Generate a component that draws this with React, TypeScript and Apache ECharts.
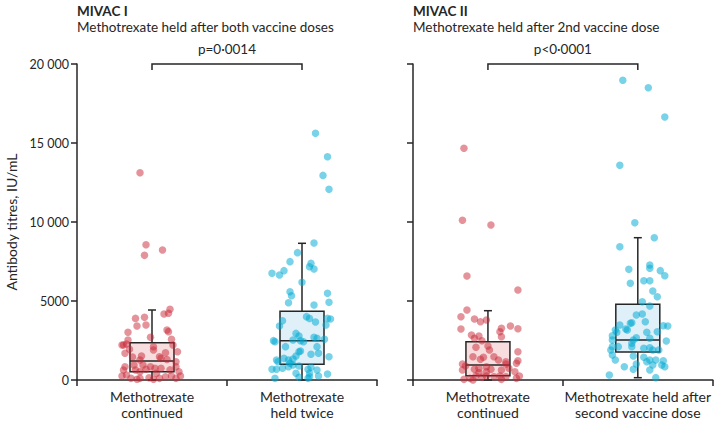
import React, { useEffect, useRef } from "react";
import * as echarts from "echarts";

// Category labels
const catsI = ["Methotrexate\ncontinued", "Methotrexate\nheld twice"];
const catsII = ["Methotrexate\ncontinued", "Methotrexate held after\nsecond vaccine dose"];
const yTicks = [0, 5000, 10000, 15000, 20000];

// Box summaries: [min, q1, median, q3, upper whisker]
const boxIContinued = [0, 525, 1203, 2361, 4430];
const boxIHeld = [0, 994, 2487, 4348, 8652];
const boxIIContinued = [0, 272, 949, 2424, 4386];
const boxIIHeld = [146, 1772, 2532, 4791, 9006];

// Individual points: [horizontal jitter within the category, titre IU/mL]
const ptsIContinued = [
  [-0.08, 13120], [-0.04, 8565], [-0.05, 7890], [0.07, 8228], [0.12, 4475], [0.11, 4220],
  [0.08, 4180], [-0.11, 3900], [-0.05, 3965], [-0.1, 3420], [-0.04, 3480], [-0.16, 3020],
  [0.1, 3165], [0.11, 3060], [-0.01, 2700], [0.13, 2575], [-0.19, 2215], [-0.17, 2280],
  [-0.2, 2215], [-0.16, 2530], [-0.15, 1940], [0.01, 2110], [0.14, 2215], [0.17, 1790],
  [-0.18, 1690], [-0.07, 1520], [0.06, 1370], [0.09, 1730], [0.01, 1900], [-0.12, 950],
  [-0.06, 950], [-0.01, 840], [0.02, 740], [0.06, 740], [0.16, 1160], [0.16, 840],
  [-0.18, 840], [-0.19, 630], [-0.11, 630], [-0.08, 525], [-0.04, 675], [0.18, 525],
  [-0.2, 250], [-0.17, 315], [-0.14, 105], [-0.1, 45], [-0.08, 105], [-0.02, 145],
  [0.01, 45], [0.05, 105], [0.09, 210], [0.13, 250], [0.16, 105], [0.19, 250],
  [0.05, 1475], [-0.08, 1265], [0.1, 1300], [-0.13, 1450], [0.03, 420], [0.12, 640],
];
const ptsIHeld = [
  [0.09, 15610], [0.17, 14130], [0.14, 12950], [0.18, 12070], [0.08, 8670], [-0.03, 8060],
  [-0.08, 7490], [-0.2, 6750], [-0.15, 6645], [-0.12, 6920], [0.06, 7380], [0.05, 7170],
  [0.08, 7025], [0.0, 6180], [-0.08, 5590], [-0.07, 5335], [-0.09, 4890], [0.08, 4750],
  [0.17, 5490], [0.18, 4915], [0.03, 4010], [0.05, 3900], [0.09, 3670], [0.17, 3900],
  [0.19, 3860], [0.16, 3480], [-0.15, 3420], [-0.13, 3750], [-0.04, 2950], [-0.02, 2785],
  [-0.19, 2490], [-0.18, 2425], [-0.06, 2530], [-0.01, 2490], [0.01, 2425], [0.08, 2700],
  [0.1, 2640], [0.15, 2575], [-0.11, 2110], [0.1, 2110], [-0.02, 1790], [-0.01, 1835],
  [-0.04, 1520], [0.06, 1625], [0.11, 1690], [-0.17, 1265], [-0.16, 1160], [-0.12, 1370],
  [-0.09, 1265], [-0.06, 1330], [-0.08, 1055], [0.18, 1475], [-0.2, 675], [-0.17, 675],
  [-0.13, 740], [-0.09, 840], [-0.06, 950], [-0.02, 885], [0.04, 675], [0.06, 805],
  [0.1, 630], [-0.04, 425], [0.05, 425], [0.17, 380], [0.11, 250], [-0.18, 105],
  [-0.02, 170], [0.04, 105], [0.05, 210],
];
const ptsIIContinued = [
  [-0.16, 14665], [-0.17, 10107], [0.02, 9810], [-0.14, 6582], [0.2, 5696], [-0.14, 4430],
  [-0.18, 4006], [-0.09, 3860], [-0.05, 3690], [-0.01, 3797], [0.15, 3418], [0.2, 3247],
  [-0.18, 3228], [0.09, 3270], [0.08, 3057], [0.09, 2740], [-0.11, 2848], [-0.09, 2640],
  [-0.06, 2785], [-0.04, 2487], [0.0, 2152], [0.01, 1899], [-0.08, 2070], [0.2, 1791],
  [-0.1, 1475], [-0.03, 1435], [-0.05, 1310], [0.04, 1475], [0.07, 1266], [0.12, 1160],
  [0.12, 1013], [0.2, 1223], [-0.17, 1013], [-0.15, 886], [-0.17, 633], [-0.09, 675],
  [-0.06, 740], [-0.01, 843], [0.02, 675], [0.09, 633], [0.14, 740], [0.19, 1055],
  [0.18, 527], [-0.08, 253], [-0.04, 169], [-0.01, 253], [0.04, 211], [0.08, 253],
  [0.12, 211], [-0.16, 42], [-0.12, 105], [-0.1, 0], [0.09, 42], [0.19, 105],
  [0.21, 253], [-0.06, 464], [-0.01, 527],
];
const ptsIIHeld = [
  [-0.1, 18968], [0.07, 18500], [0.18, 16645], [-0.12, 13590], [-0.02, 9956], [0.11, 9006],
  [-0.12, 8437], [0.08, 7278], [0.08, 7068], [0.15, 6920], [0.18, 6600], [-0.06, 7005],
  [-0.05, 6120], [0.04, 6285], [0.08, 6285], [0.1, 5630], [0.08, 4683], [0.13, 5270],
  [0.03, 4955], [-0.12, 3480], [-0.08, 3228], [-0.05, 3586], [-0.04, 3628], [-0.01, 4114],
  [0.03, 4177], [0.05, 3690], [0.17, 3437], [0.2, 3418], [-0.07, 3164], [-0.17, 2806],
  [-0.14, 3018], [-0.15, 3164], [0.06, 3018], [0.13, 3057], [0.19, 2468], [-0.17, 2532],
  [-0.04, 2321], [-0.03, 2532], [0.08, 2640], [-0.01, 2679], [-0.17, 2110], [-0.18, 1899],
  [-0.13, 2110], [-0.04, 2110], [0.04, 2004], [0.08, 2046], [0.1, 1899], [0.14, 1899],
  [-0.17, 1582], [-0.15, 1266], [-0.03, 1519], [0.04, 1435], [0.08, 1266], [0.12, 1266],
  [0.17, 1223], [-0.01, 1013], [0.06, 1160], [0.1, 950], [0.16, 950], [0.18, 843],
  [-0.09, 843], [-0.03, 675], [0.08, 633], [-0.19, 316], [0.12, 148],
];

const pLabelI = "p=0·0014";
const pLabelII = "p<0·0001";

const FONT = "Lato, 'Open Sans', sans-serif";
const INK = "#262626";
const RED = "rgba(200, 36, 52, 0.62)";
const BLUE = "rgba(0, 170, 212, 0.66)";
const RED_FILL = "#f7dddd";
const BLUE_FILL = "#dff0f8";

function fmtTick(v: number) {
  if (v >= 10000) {
    const s = String(v);
    return s.slice(0, s.length - 3) + " " + s.slice(s.length - 3);
  }
  return String(v);
}

function boxRender(fills: string[]) {
  return (params: any, api: any) => {
    const x = api.value(0);
    const mn = api.value(1), q1 = api.value(2), md = api.value(3), q3 = api.value(4), mx = api.value(5);
    const pQ1 = api.coord([x, q1]);
    const pQ3 = api.coord([x, q3]);
    const pMd = api.coord([x, md]);
    const pMn = api.coord([x, mn]);
    const pMx = api.coord([x, mx]);
    const hw = 22;
    const cap = 4;
    const ls = { stroke: INK, lineWidth: 1.5, fill: null };
    return {
      type: "group",
      children: [
        { type: "line", shape: { x1: pQ3[0], y1: pQ3[1], x2: pMx[0], y2: pMx[1] }, style: ls },
        { type: "line", shape: { x1: pMx[0] - cap, y1: pMx[1], x2: pMx[0] + cap, y2: pMx[1] }, style: ls },
        { type: "line", shape: { x1: pQ1[0], y1: pQ1[1], x2: pMn[0], y2: pMn[1] }, style: ls },
        { type: "line", shape: { x1: pMn[0] - cap, y1: pMn[1], x2: pMn[0] + cap, y2: pMn[1] }, style: ls },
        {
          type: "rect",
          shape: { x: pQ3[0] - hw, y: pQ3[1], width: hw * 2, height: pQ1[1] - pQ3[1] },
          style: { fill: fills[params.dataIndex], stroke: INK, lineWidth: 1.5 },
        },
        { type: "line", shape: { x1: pMd[0] - hw, y1: pMd[1], x2: pMd[0] + hw, y2: pMd[1] }, style: ls },
      ],
    };
  };
}

function bracketRender(label: string) {
  return (params: any, api: any) => {
    const a = api.coord([api.value(0), api.value(2)]);
    const b = api.coord([api.value(1), api.value(2)]);
    return {
      type: "group",
      children: [
        {
          type: "polyline",
          shape: { points: [[a[0], a[1] + 6], [a[0], a[1]], [b[0], b[1]], [b[0], b[1] + 6]] },
          style: { stroke: INK, lineWidth: 1.5, fill: null },
        },
        {
          type: "text",
          style: {
            text: label, x: (a[0] + b[0]) / 2, y: a[1] - 15, align: "center", verticalAlign: "middle",
            fill: INK, fontSize: 13.5, fontFamily: FONT,
          },
        },
      ],
    };
  };
}

export default function App() {
  const ref = useRef<HTMLDivElement>(null);
  useEffect(() => {
    document.body.style.margin = "0";
    if (!ref.current) return;
    const chart = echarts.init(ref.current, undefined, { renderer: "svg" });
    const lineStyle = { color: INK, width: 1.5 };
    const yAxisBase = {
      type: "value", min: 0, max: 20000, interval: 5000,
      axisLine: { show: true, onZero: false, lineStyle },
      axisTick: { show: true, length: 6, lineStyle },
      splitLine: { show: false },
    };
    const catAxis = (gridIndex: number, data: string[]) => ({
      type: "category", gridIndex, data, boundaryGap: true,
      axisLine: { show: true, onZero: false, lineStyle },
      axisTick: { show: true, length: 6, lineStyle },
      axisLabel: { color: INK, fontSize: 14, fontFamily: FONT, lineHeight: 16, margin: 8, interval: 0 },
    });
    const valX = (gridIndex: number) => ({ type: "value", gridIndex, min: -0.5, max: 1.5, show: false });
    const scatter = (xi: number, yi: number, cat: number, pts: number[][], color: string) => ({
      type: "scatter", xAxisIndex: xi, yAxisIndex: yi, symbolSize: 7.5, z: 3,
      itemStyle: { color }, data: pts.map(([j, v]) => [cat + j, v]),
    });
    const titleStyle = (bold: boolean) => ({ fontSize: 13.5, fontWeight: bold ? "bold" : "normal", color: INK, fontFamily: FONT });
    chart.setOption({
      animation: false,
      title: [
        { text: "MIVAC I", left: 77, top: 4, padding: 0, textStyle: titleStyle(true) },
        { text: "Methotrexate held after both vaccine doses", left: 77, top: 20, padding: 0, textStyle: titleStyle(false) },
        { text: "MIVAC II", left: 413, top: 4, padding: 0, textStyle: titleStyle(true) },
        { text: "Methotrexate held after 2nd vaccine dose", left: 413, top: 20, padding: 0, textStyle: titleStyle(false) },
      ],
      grid: [
        { left: 77, top: 64, width: 300, height: 316 },
        { left: 413, top: 64, width: 300, height: 316 },
      ],
      xAxis: [catAxis(0, catsI), valX(0), catAxis(1, catsII), valX(1)],
      yAxis: [
        {
          ...yAxisBase, gridIndex: 0,
          name: "Antibody titres, IU/mL", nameLocation: "middle", nameGap: 59,
          nameTextStyle: { color: INK, fontSize: 14, fontFamily: FONT },
          axisLabel: { color: INK, fontSize: 12.5, fontFamily: FONT, margin: 8, formatter: (v: number) => (yTicks.includes(v) ? fmtTick(v) : "") },
        },
        { ...yAxisBase, gridIndex: 1, axisLabel: { show: false } },
      ],
      series: [
        { type: "custom", xAxisIndex: 1, yAxisIndex: 0, z: 2, renderItem: boxRender([RED_FILL, BLUE_FILL]), data: [[0, ...boxIContinued], [1, ...boxIHeld]] },
        { type: "custom", xAxisIndex: 3, yAxisIndex: 1, z: 2, renderItem: boxRender([RED_FILL, BLUE_FILL]), data: [[0, ...boxIIContinued], [1, ...boxIIHeld]] },
        scatter(1, 0, 0, ptsIContinued, RED),
        scatter(1, 0, 1, ptsIHeld, BLUE),
        scatter(3, 1, 0, ptsIIContinued, RED),
        scatter(3, 1, 1, ptsIIHeld, BLUE),
        { type: "custom", xAxisIndex: 1, yAxisIndex: 0, clip: false, renderItem: bracketRender(pLabelI), data: [[0, 1, 20000]] },
        { type: "custom", xAxisIndex: 3, yAxisIndex: 1, clip: false, renderItem: bracketRender(pLabelII), data: [[0, 1, 20000]] },
      ],
    });
    return () => chart.dispose();
  }, []);
  return <div ref={ref} style={{ width: 714, height: 421 }} />;
}
